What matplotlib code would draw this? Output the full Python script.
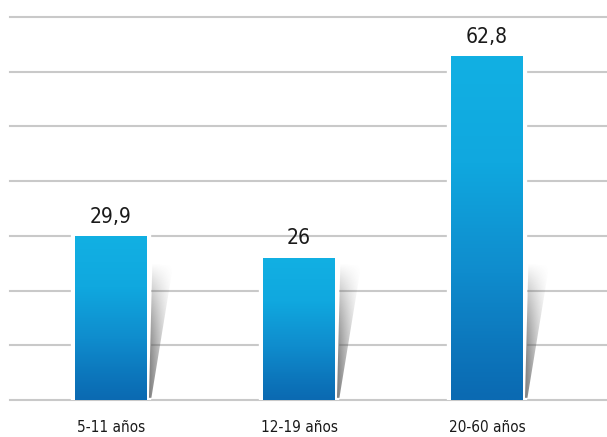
'''
Gráfico de barras: valores por faixa etária
'''

import numpy as np
import matplotlib.pyplot as plt
from matplotlib.patches import Polygon
from matplotlib.colors import LinearSegmentedColormap

# dados

CATEGORIAS = ["5-11 años", "12-19 años", "20-60 años"]
VALORES = [29.9, 26, 62.8]
ROTULOS = ["29,9", "26", "62,8"]
GRADE_Y = list(range(0, 71, 10))

FONTE = ['DejaVu Sans']

# gradiente das barras (topo ciano, base azul)
CMAP_BARRA = LinearSegmentedColormap.from_list(
    "barra", ["#0b6ab2", "#0f8ccd", "#10a8df", "#12b0e3"])


def sombra(ax, x_dir, altura=24.5):
    '''
    Desenha a sombra cinza ao lado direito da barra, a partir da base.
    '''
    pontos = [(x_dir + 0.012, 0.4), (x_dir + 0.025, 0.4),
              (x_dir + 0.14, altura), (x_dir + 0.03, altura + 0.5)]
    poly = Polygon(pontos, closed=True, facecolor="none", edgecolor="none")
    ax.add_patch(poly)

    n = 200
    u = np.linspace(0, 1, n)[None, :]
    v = np.linspace(0, 1, n)[:, None]  # 0 em baixo, 1 no topo
    alpha = (1 - u) ** 1.2 * (0.9 - 0.9 * v ** 2.5)
    alpha = np.clip(alpha, 0, 1)
    img = np.zeros((n, n, 4))
    img[..., 0:3] = 0.38
    img[..., 3] = alpha
    im = ax.imshow(img, origin="lower", aspect="auto", zorder=2.5,
                   extent=(x_dir, x_dir + 0.14, 0, altura + 0.5),
                   interpolation="bilinear")
    im.set_clip_path(poly)


if __name__ == "__main__":
    fig = plt.figure(figsize=(6.07, 4.37), dpi=100)
    ax = fig.add_axes([10 / 607, 37 / 437, 597 / 607, 383 / 437])

    x = np.arange(len(VALORES))
    largura = 0.38

    # grade horizontal
    for g in GRADE_Y:
        ax.axhline(g, color="#c9c9c9", linewidth=1.5, zorder=0, clip_on=False)

    barras = ax.bar(x, VALORES, width=largura, color="white",
                    edgecolor="white", linewidth=6, zorder=2)

    grad = np.linspace(0, 1, 256)[:, None] ** 1.1
    for b in barras:
        x0, w, h = b.get_x(), b.get_width(), b.get_height()
        im = ax.imshow(grad, cmap=CMAP_BARRA, origin="lower", aspect="auto",
                       extent=(x0, x0 + w, 0, h), zorder=3)
        im.set_clip_path(b)
        sombra(ax, x0 + w)

    for xi, val, rot in zip(x, VALORES, ROTULOS):
        ax.annotate(rot, (xi, val), xytext=(0, 7), textcoords="offset points",
                    ha="center", va="bottom", fontsize=15, color="#1a1a1a",
                    family=FONTE, fontstretch="condensed")

    for xi, cat in zip(x, CATEGORIAS):
        ax.text(xi, -5.0, cat, ha="center", va="center", fontsize=11,
                color="#1a1a1a", family=FONTE, fontstretch="condensed")

    ax.set_xlim(-0.537, 2.638)
    ax.set_ylim(0, 70)
    ax.axis("off")

    fig.savefig("out.png", dpi=100, facecolor="white")
